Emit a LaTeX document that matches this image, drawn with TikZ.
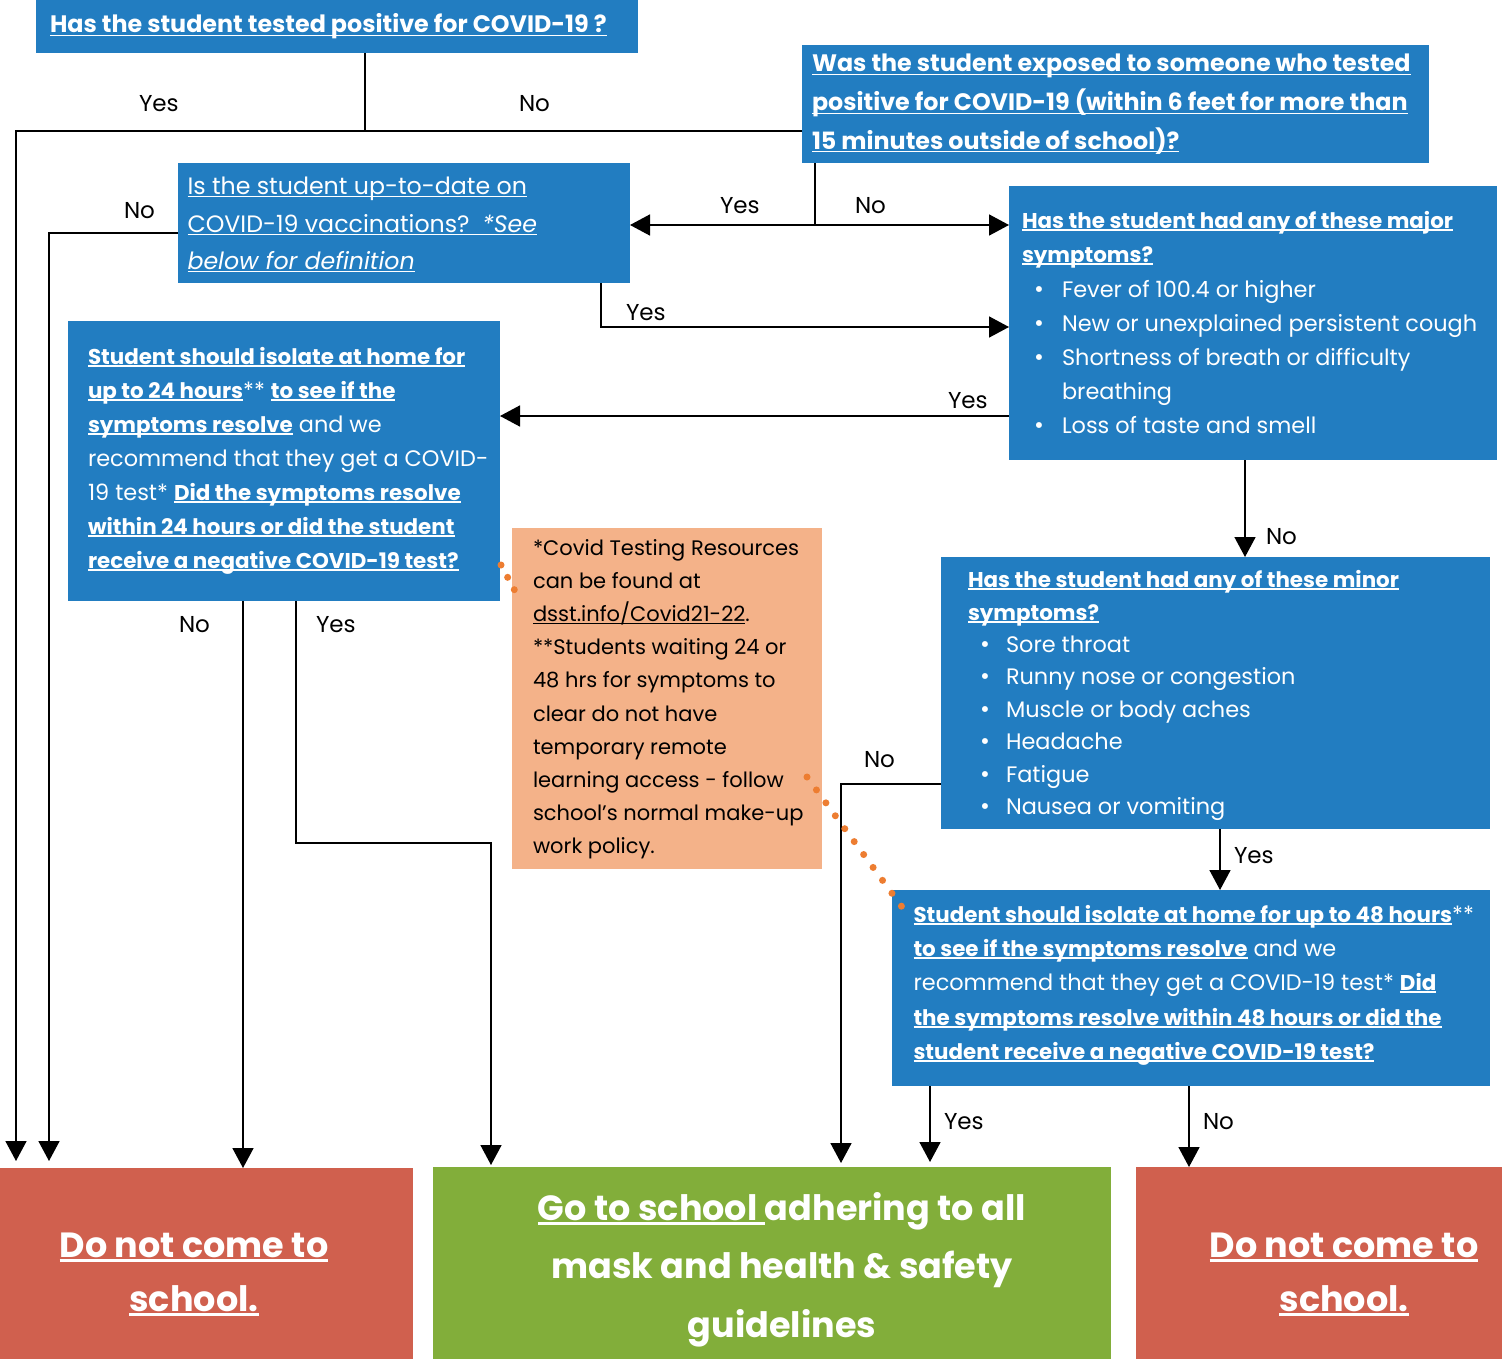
\documentclass[tikz,border=0pt]{standalone}
\usepackage{fontspec}
\setmainfont{Poppins}
\usetikzlibrary{arrows.meta}
\definecolor{qblue}{RGB}{34,125,193}
\definecolor{qred}{RGB}{208,96,78}
\definecolor{qgreen}{RGB}{130,174,58}
\definecolor{qpeach}{RGB}{244,178,137}
\definecolor{qdot}{RGB}{237,125,49}
\newcommand\ulz[1]{\setbox0\hbox{#1}\rlap{\rule[-0.13em]{\wd0}{0.065em}}\box0}
\newcommand\fh{\fontsize{11.9pt}{14pt}\selectfont\bfseries}
\newcommand\fb{\fontsize{10.7pt}{13pt}\selectfont\bfseries}
\newcommand\fr{\fontsize{11.2pt}{13pt}\selectfont\mdseries}
\newcommand\fq{\fontsize{11.85pt}{14pt}\selectfont\mdseries}
\newcommand\fn{\fontsize{10.5pt}{13pt}\selectfont\mdseries}
\newcommand\fbig{\fontsize{17.5pt}{20pt}\selectfont\bfseries}
\newcommand\flab{\fontsize{11.5pt}{13pt}\selectfont\mdseries}
\newcommand\fbul{\fontsize{12pt}{12pt}\selectfont\mdseries}
\newcounter{lc}
\newcommand\tline[3][]{\stepcounter{lc}\node[tl,#1] (L\arabic{lc}) at (#2) {#3};}
\begin{document}
\begin{tikzpicture}[x=0.5pt,y=-0.5pt,
  tl/.style={anchor=base west,inner sep=0pt,outer sep=0pt,text=white},
  lab/.style={tl,text=black,font=\flab},
  box/.style={anchor=north west,inner sep=0pt,outer sep=0pt,draw=none},
  ln/.style={line width=0.8pt,black},
  arr/.style={ln,-{Triangle[width=10.5pt,length=10pt]}},
  dots/.style={qdot,line width=3.5pt,line cap=round,dash pattern=on 0pt off #1},
  dots/.default=8pt]
\useasboundingbox (0,0) rectangle (1502,1359);
\fill[white] (0,0) rectangle (1502,1359);
% ---------------- boxes
\node[box,fill=qblue,minimum width=301pt,minimum height=26.5pt] (b1) at (36,0) {};
\node[box,fill=qblue,minimum width=313.5pt,minimum height=59pt] (b2) at (802,45) {};
\node[box,fill=qblue,minimum width=226pt,minimum height=60pt] (b3) at (178,163) {};
\node[box,fill=qblue,minimum width=244pt,minimum height=137pt] (b4) at (1009,186) {};
\node[box,fill=qblue,minimum width=216pt,minimum height=140pt] (b5) at (68,321) {};
\node[box,fill=qpeach,minimum width=155pt,minimum height=170.5pt] (nt) at (512,528) {};
\node[box,fill=qblue,minimum width=274.5pt,minimum height=136pt] (b6) at (941,557) {};
\node[box,fill=qblue,minimum width=299pt,minimum height=98pt] (b7) at (892,890) {};
\node[box,fill=qred,minimum width=206.5pt,minimum height=95.5pt] (r1) at (0,1168) {};
\node[box,fill=qgreen,minimum width=339pt,minimum height=96pt] (gr) at (433,1167) {};
\node[box,fill=qred,minimum width=183pt,minimum height=96pt] (r2) at (1136,1167) {};
% ---------------- texts
\tline{50,33}{\fh\ulz{Has the student tested positive for COVID-19 ?}}
\tline{812,72}{\fh\ulz{Was the student exposed to someone who tested}}
\tline{812,111}{\fh\ulz{positive for COVID-19 (within 6 feet for more than}}
\tline{812,149}{\fh\ulz{15 minutes outside of school)?}}
\tline{187.5,194}{\fq\ulz{Is the student up-to-date on}}
\tline{187.5,232}{\fq\ulz{COVID-19 vaccinations?\ \ \itshape *See}}
\tline{187.5,269}{\fq\ulz{\itshape below for definition}}
% box 4
\tline{1022,228}{\fb\ulz{Has the student had any of these major}}
\tline{1022,262}{\fb\ulz{symptoms?}}
\tline{1034,297}{\fbul •}
\tline{1034,331}{\fbul •}
\tline{1034,365}{\fbul •}
\tline{1034,433}{\fbul •}
\tline{1062,297}{\fr Fever of 100.4 or higher}
\tline{1062,331}{\fr New or unexplained persistent cough}
\tline{1062,365}{\fr Shortness of breath or difficulty}
\tline{1062,399}{\fr breathing}
\tline{1062,433}{\fr Loss of taste and smell}
% box 5
\tline{88,364}{\fb\ulz{Student should isolate at home for}}
\tline{88,398}{\fb\ulz{up to 24 hours}\fr** \fb\ulz{to see if the}}
\tline{88,432}{\fb\ulz{symptoms resolve}\fr\ and we}
\tline{88,466}{\fr recommend that they get a COVID-}
\tline{88,500}{\fr 19 test* \fb\ulz{Did the symptoms resolve}}
\tline{88,534}{\fb\ulz{within 24 hours or did the student}}
\tline{88,568}{\fb\ulz{receive a negative COVID-19 test?}}
% note
\tline[text=black]{533,555}{\fn *Covid Testing Resources}
\tline[text=black]{533,588.2}{\fn can be found at}
\tline[text=black]{533,621.4}{\fn\ulz{dsst.info/Covid21-22}.}
\tline[text=black]{533,654.6}{\fn **Students waiting 24 or}
\tline[text=black]{533,687.8}{\fn 48 hrs for symptoms to}
\tline[text=black]{533,721}{\fn clear do not have}
\tline[text=black]{533,754.2}{\fn temporary remote}
\tline[text=black]{533,787.4}{\fn learning access - follow}
\tline[text=black]{533,820.6}{\fn school's normal make-up}
\tline[text=black]{533,853.8}{\fn work policy.}
% box 6
\tline{968,587}{\fb\ulz{Has the student had any of these minor}}
\tline{968,620}{\fb\ulz{symptoms?}}
\tline{980,652}{\fbul •}
\tline{980,684.5}{\fbul •}
\tline{980,717}{\fbul •}
\tline{980,749.5}{\fbul •}
\tline{980,782}{\fbul •}
\tline{980,814.5}{\fbul •}
\tline{1006,652}{\fr Sore throat}
\tline{1006,684.5}{\fr Runny nose or congestion}
\tline{1006,717}{\fr Muscle or body aches}
\tline{1006,749.5}{\fr Headache}
\tline{1006,782}{\fr Fatigue}
\tline{1006,814.5}{\fr Nausea or vomiting}
% box 7
\tline{913.5,922}{\fb\ulz{Student should isolate at home for up to 48 hours}\fr**}
\tline{913.5,956}{\fb\ulz{to see if the symptoms resolve}\fr\ and we}
\tline{913.5,990}{\fr recommend that they get a COVID-19 test* \fb\ulz{Did}}
\tline{913.5,1025}{\fb\ulz{the symptoms resolve within 48 hours or did the}}
\tline{913.5,1059}{\fb\ulz{student receive a negative COVID-19 test?}}
% bottom
\tline[anchor=base]{194,1257}{\fbig\ulz{Do not come to}}
\tline[anchor=base]{194,1311}{\fbig\ulz{school.}}
\tline[anchor=base]{782,1220}{\fbig\ulz{Go to school\ }adhering to all}
\tline[anchor=base]{782,1278}{\fbig mask and health \& safety}
\tline[anchor=base]{782,1337}{\fbig guidelines}
\tline[anchor=base]{1344,1257}{\fbig\ulz{Do not come to}}
\tline[anchor=base]{1344,1311}{\fbig\ulz{school.}}
% ---------------- connectors
\coordinate (pA) at (16,131);
\coordinate (jA) at (365,131);
\draw[ln] (b1.south -| jA) -- (jA);
\draw[arr] (b2.west |- pA) -- (pA) -- ([xshift=8pt,yshift=3.5pt]r1.north west);
\node[lab] (y1) at (139,112) {Yes};
\node[lab] (n1) at (519,112) {No};
\coordinate (pB) at (815,225);
\draw[ln] (b2.south -| pB) -- (pB);
\draw[arr] (pB) -- (b3.east |- pB);
\draw[arr] (pB) -- (b4.west |- pB);
\node[lab] (y2) at (720,213) {Yes};
\node[lab] (n2) at (855,213) {No};
\coordinate (pC) at (49,233);
\draw[arr] (b3.west |- pC) -- (pC) -- ([xshift=24.5pt,yshift=3.5pt]r1.north west);
\node[lab] (n3) at (124,218) {No};
\coordinate (pD) at (601,327);
\draw[arr] (b3.south -| pD) -- (pD) -- (b4.west |- pD);
\node[lab] (y3) at (626,320) {Yes};
\coordinate (pE) at (1009,416);
\draw[arr] (b4.west |- pE) -- (b5.east |- pE);
\node[lab] (y4) at (948,408) {Yes};
\coordinate (pF) at (1245,500);
\draw[arr] (b4.south -| pF) -- (b6.north -| pF);
\node[lab] (n4) at (1266,544) {No};
\coordinate (pG) at (243,1167);
\draw[arr] (b5.south -| pG) -- (r1.north -| pG);
\node[lab] (n5) at (179,632) {No};
\coordinate (pH1) at (296,843);
\coordinate (pH2) at (491,843);
\draw[arr] (b5.south -| pH1) -- (pH1) -- (pH2) -- ([yshift=1pt]gr.north -| pH2);
\node[lab] (y5) at (316,632) {Yes};
\coordinate (pI) at (841,784);
\draw[arr] (b6.west |- pI) -- (pI) -- ([yshift=2pt]gr.north -| pI);
\node[lab] (n6) at (864,767) {No};
\coordinate (pJ) at (1220,860);
\draw[arr] (b6.south -| pJ) -- (b7.north -| pJ);
\node[lab] (y6) at (1234,863) {Yes};
\coordinate (pK) at (930,1120);
\draw[arr] (b7.south -| pK) -- ([yshift=2.5pt]gr.north -| pK);
\node[lab] (y7) at (944,1129) {Yes};
\coordinate (pL) at (1189,1120);
\draw[arr] (b7.south -| pL) -- (r2.north -| pL);
\node[lab] (n7) at (1203,1129) {No};
% dotted links to the note
\coordinate (d1a) at (501,565);
\coordinate (d1b) at (515,591);
\draw[dots=7pt] (d1a) -- (d1b);
\coordinate (d2a) at (807,777);
\coordinate (d2b) at (902,907);
\draw[dots=8pt] (d2a) -- (d2b);
\end{tikzpicture}
\end{document}
